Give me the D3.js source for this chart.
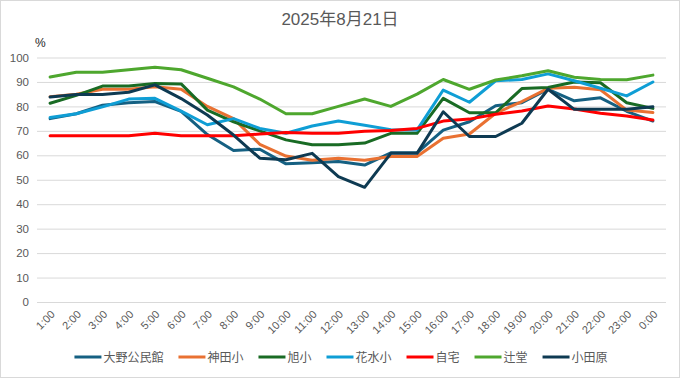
<!DOCTYPE html>
<html><head><meta charset="utf-8">
<script src="https://cdn.jsdelivr.net/npm/d3@7"></script>
<style>
html,body{margin:0;padding:0;background:#fff;}
svg{display:block;font-family:"Liberation Sans","Noto Sans CJK JP",sans-serif;}
</style></head>
<body>
<svg id="chart" width="681" height="379"></svg>
<script>
const hours = ["1:00","2:00","3:00","4:00","5:00","6:00","7:00","8:00","9:00","10:00","11:00","12:00","13:00","14:00","15:00","16:00","17:00","18:00","19:00","20:00","21:00","22:00","23:00","0:00"];
const seriesNames = ["大野公民館","神田小","旭小","花水小","自宅","辻堂","小田原"];
const seriesColors = ["#156082","#E97132","#196B24","#0F9ED5","#FF0000","#4EA72E","#0E3A52"];
const ohno    = [75,77,80.5,81.5,82,78,68.5,62,62.5,56.5,57,57.5,56,61,61,70.3,73.7,80.3,81.5,87,82.3,83.5,78,74];
const kanda   = [84,85,87,87,88,87,80,75,64.5,59.7,58,58.8,58,59.5,59.5,67,68.7,77.2,82,87.4,87.8,86.8,78.5,77.5];
const asahi   = [81.3,84.5,88.3,88.3,89.4,89.2,78.5,73.7,70,66.3,64.3,64.3,65,69,69,83.3,77.4,77.4,87.3,87.7,90,89.7,81.5,79.2];
const hanamizu= [75.5,77,79.8,83,83.3,78.1,72.5,75,71,69,72,74,72.3,70.5,70.3,86.7,81.7,90.5,91,93.3,90.5,87.4,84.3,90];
const jitaku  = [68,68,68,68,69,68,68,68,68.7,69.3,69,69,69.8,70.1,71,74,74.8,76.8,78.1,80.2,78.9,77.2,76.1,74.4];
const tsujido = [92,94,94,95,96,95,91.5,88,83,77,77,80,83,80,85,91,87,90.8,92.5,94.6,91.9,91,90.9,92.8];
const odawara = [83.8,84.9,84.9,85.8,88.8,83.2,76.5,68.3,58.8,58.2,60.8,51.3,46.9,60.8,60.8,77.8,67.7,67.7,73.1,87,78.8,78.8,78.8,79.9];
const yTicks = [0,10,20,30,40,50,60,70,80,90,100];
const allValues = [ohno,kanda,asahi,hanamizu,jitaku,tsujido,odawara];

const svg = d3.select("#chart");
const textColor = "#595959";

svg.append("rect").attr("x",0.5).attr("y",0.5).attr("width",679).attr("height",377)
  .attr("fill","#fff").attr("stroke","#d9d9d9");

const x = d3.scalePoint().domain(hours).range([37,666]).padding(0.5);
const y = d3.scaleLinear().domain([0,100]).range([302,57.5]);

// title
svg.append("text").attr("x",340).attr("y",25).attr("text-anchor","middle")
  .attr("font-size",17).attr("fill",textColor).text("2025年8月21日");
svg.append("text").attr("x",35).attr("y",47).attr("font-size",12).attr("fill","#262626").text("%");

// gridlines + y axis
const yAxis = d3.axisLeft(y).tickValues(yTicks).tickSize(-(666-37)).tickPadding(8);
const gy = svg.append("g").attr("transform","translate(37,0)").call(yAxis);
gy.select(".domain").remove();
gy.selectAll(".tick line").attr("stroke","#d9d9d9").attr("stroke-width",1);
gy.selectAll(".tick text").attr("fill",textColor).attr("font-size",11.5)
  .attr("font-family","'Liberation Sans',sans-serif");

// x axis labels
const xAxis = d3.axisBottom(x).tickSize(0).tickPadding(0);
const gx = svg.append("g").attr("transform","translate(0,302)").call(xAxis);
gx.select(".domain").remove();
gx.selectAll(".tick text").attr("fill",textColor).attr("font-size",11)
  .attr("text-anchor","end").attr("dy",0)
  .attr("transform","translate(5,13) rotate(-45)");

// lines
const line = d3.line().x((d,i)=>x(hours[i])).y(d=>y(d));
seriesNames.forEach((n,k)=>{
  svg.append("path").datum(allValues[k]).attr("d",line).attr("fill","none")
    .attr("stroke",seriesColors[k]).attr("stroke-width",3).attr("stroke-linejoin","round").attr("stroke-linecap","round");
});

// legend
const lg = svg.append("g");
let cx = 0;
seriesNames.forEach((n,k)=>{
  const g = lg.append("g").attr("transform",`translate(${cx},0)`);
  g.append("line").attr("x1",0).attr("x2",27).attr("y1",0).attr("y2",0)
    .attr("stroke",seriesColors[k]).attr("stroke-width",3);
  const t = g.append("text").attr("x",29).attr("y",4.5).attr("font-size",12).attr("fill",textColor).text(n);
  cx += 29 + t.node().getComputedTextLength() + 15;
});
const totalW = cx - 15;
lg.attr("transform",`translate(${341 - totalW/2},357)`);
</script>
</body></html>
